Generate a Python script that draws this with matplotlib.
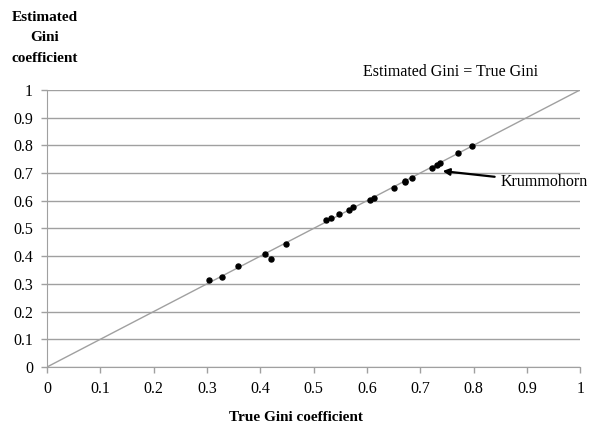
import matplotlib
matplotlib.use("Agg")
import matplotlib.pyplot as plt

# true vs estimated Gini
true_gini = [0.304, 0.328, 0.358, 0.409, 0.420, 0.448, 0.523, 0.533, 0.548, 0.567,
             0.573, 0.605, 0.613, 0.650, 0.672, 0.672, 0.685, 0.722, 0.732, 0.738,
             0.770, 0.798]
est_gini = [0.314, 0.326, 0.366, 0.408, 0.390, 0.444, 0.531, 0.539, 0.552, 0.566,
            0.578, 0.603, 0.610, 0.647, 0.668, 0.673, 0.683, 0.718, 0.730, 0.736,
            0.774, 0.797]
ticks = [0, 0.1, 0.2, 0.3, 0.4, 0.5, 0.6, 0.7, 0.8, 0.9, 1]
tick_labels = ["0", "0.1", "0.2", "0.3", "0.4", "0.5", "0.6", "0.7", "0.8", "0.9", "1"]

plt.rcParams["font.family"] = ["Liberation Serif", "DejaVu Serif"]

fig = plt.figure(figsize=(5.92, 4.26), dpi=100)
ax = fig.add_axes([0.0794, 0.1385, 0.9006, 0.6505])

grey = "#a0a0a0"
ax.set_xlim(0, 1)
ax.set_ylim(0, 1)
ax.set_xticks(ticks)
ax.set_xticklabels(tick_labels)
ax.set_yticks(ticks)
ax.set_yticklabels(tick_labels)
ax.tick_params(axis="both", labelsize=11.5, color=grey, length=4, width=1, pad=6)
for s in ["top", "right"]:
    ax.spines[s].set_visible(False)
for s in ["left", "bottom"]:
    ax.spines[s].set_color(grey)
ax.yaxis.grid(True, color=grey, linewidth=1)
ax.set_axisbelow(True)

ax.plot([0, 1], [0, 1], color=grey, linewidth=1, zorder=2)
ax.scatter(true_gini, est_gini, s=13, color="black", zorder=3, clip_on=False)

ax.text(0.756, 1.035, "Estimated Gini = True Gini", ha="center", va="bottom", fontsize=11.5)
ax.annotate("Krummohorn", xy=(0.742, 0.707), xytext=(0.85, 0.667),
            fontsize=11.5, ha="left", va="center",
            arrowprops=dict(arrowstyle="-|>", color="black", lw=1.6, mutation_scale=10,
                            shrinkA=2, shrinkB=0))

fig.text(0.076, 0.975, "Estimated\nGini\ncoefficient", ha="center", va="top",
         fontsize=11, fontweight="bold", linespacing=1.75)
fig.text(0.5, 0.005, "True Gini coefficient", ha="center", va="bottom",
         fontsize=11, fontweight="bold")

fig.savefig("out.png", dpi=100, facecolor="white")
